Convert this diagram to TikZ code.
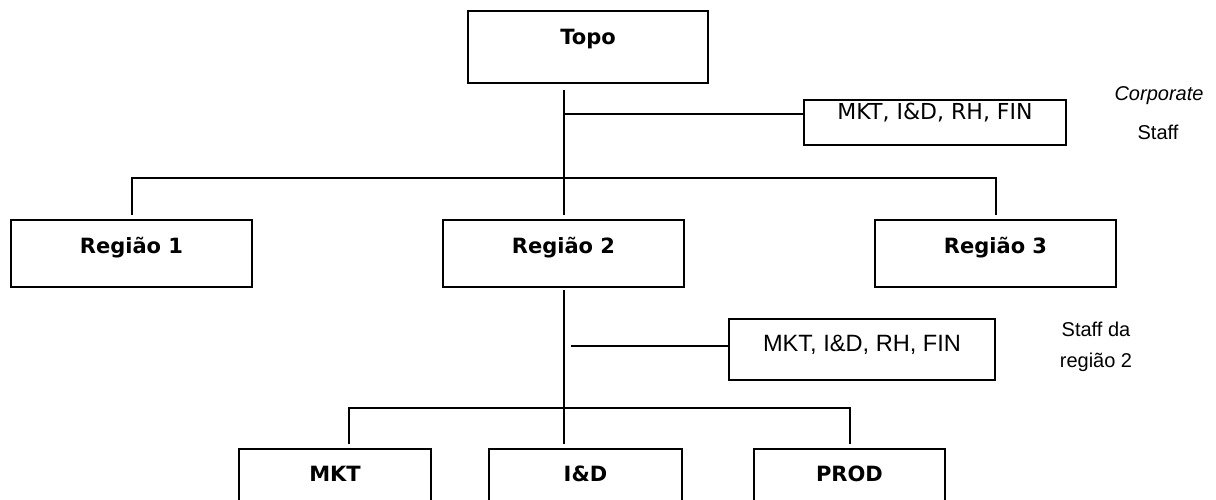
\documentclass[tikz,border=0pt]{standalone}
\usepackage{fontspec}
\setmainfont{DejaVu Sans}
\newfontfamily\arialfont{Liberation Sans}

\begin{document}
\begin{tikzpicture}[x=0.5pt,y=-0.5pt,line width=1pt,
    box/.style={draw,anchor=north west,inner sep=0pt,font=\bfseries\fontsize{10.5}{12}\selectfont,text height=16.5pt,text depth=17pt},
    staffbox/.style={draw,anchor=north west,inner sep=0pt,font=\fontsize{11}{13}\selectfont},
    note/.style={font=\arialfont\fontsize{10}{12}\selectfont}]
    \useasboundingbox (0,0) rectangle (1216,499);
    \clip (0,0) rectangle (1216,499);
    % top
    \node[box,minimum width=120pt,text depth=19.5pt] (topo) at (467,10) {Topo};
    \node[staffbox,minimum width=131pt,text height=9.5pt,text depth=13pt] (staffA) at (803,99) {MKT, I\&D, RH, FIN};
    \node[note] (corp) at (1159,96) {\itshape Corporate};
    \node[note] (corpstaff) at (1158,132) {Staff};
    % regions
    \node[box,minimum width=120.5pt] (r1) at (10,219) {Região 1};
    \node[box,minimum width=120.5pt] (r2) at (442,219) {Região 2};
    \node[box,minimum width=120.5pt] (r3) at (874,219) {Região 3};
    \node[staffbox,font=\arialfont\fontsize{11.8}{14}\selectfont,minimum width=133pt,text height=16pt,text depth=14.5pt] (staffB) at (728,318) {MKT, I\&D, RH, FIN};
    \node[note] (regstaff) at (1096,329) {Staff da};
    \node[note] (regstaff2) at (1096,362) {região 2};
    % departments
    \node[box,minimum width=96pt,text height=16pt,text depth=20pt] (mkt) at (238,448) {MKT};
    \node[box,minimum width=96.5pt,text height=16pt,text depth=20pt] (id) at (488,448) {I\&D};
    \node[box,minimum width=95.5pt,text height=16pt,text depth=20pt] (prod) at (753,448) {PROD};
    % lines
    \coordinate (rbar) at (r2.north |- 0,178);
    \coordinate (dbar) at (r2.north |- 0,408);
    \draw ([yshift=-3pt]topo.south -| r2.north) -- ([yshift=2pt]r2.north);
    \draw (staffA.mid west -| r2.north) -- (staffA.mid west);
    \draw ([yshift=2pt]r1.north) |- (rbar) -| ([yshift=2pt]r3.north);
    \draw ([yshift=-1pt]r2.south) -- ([yshift=2pt]r2.south |- mkt.north);
    \draw ([xshift=3.5pt]staffB.mid west -| r2.south) -- (staffB.mid west);
    \draw ([xshift=7pt,yshift=2pt]mkt.north) |- (dbar) -| ([yshift=2pt]prod.north);
\end{tikzpicture}
\end{document}
